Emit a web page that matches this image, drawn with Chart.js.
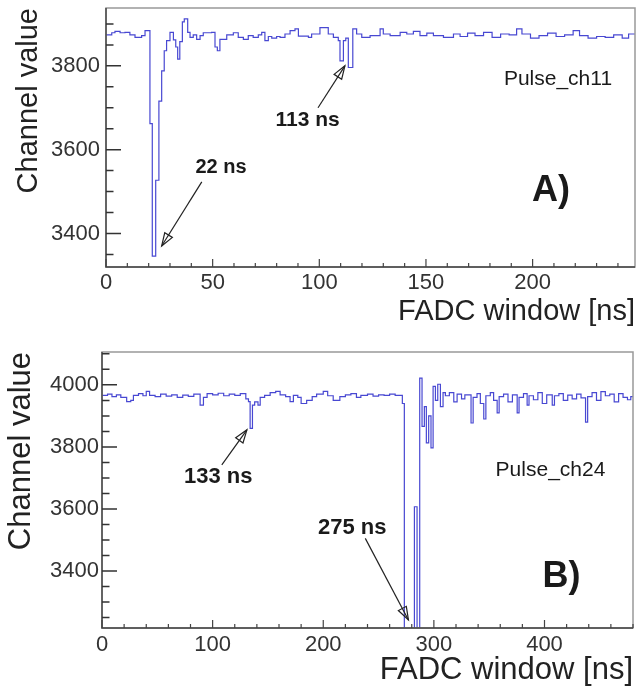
<!DOCTYPE html>
<html>
<head>
<meta charset="utf-8">
<script src="https://cdn.jsdelivr.net/npm/chart.js@4.4.1/dist/chart.umd.min.js"></script>
<style>
  html, body { margin: 0; padding: 0; background: #fff; }
  #wrap { position: relative; width: 637px; height: 687px; }
  canvas { position: absolute; left: 0; }
  #chartA { top: 0; }
  #chartB { top: 330px; }
</style>
</head>
<body>
<div id="wrap">
  <canvas id="chartA" width="637" height="330"></canvas>
  <canvas id="chartB" width="637" height="357"></canvas>
</div>
<script>
// Pulse_ch11 (panel A): bin start time [ns] and channel value
const timeA = [0, 2.7, 4.2, 6.6, 8.9, 11.2, 13.6, 16.7, 18.3, 20.6, 21.7, 23.3, 24.8, 26.1, 27.3,
  28.4, 30, 31.6, 32.7, 33.6, 34.6, 35.8, 36.7, 38.3, 39.4, 40.9, 42.5, 44.1, 45.6, 49.5, 51.1,
  52.2, 53.4, 56.6, 59.7, 62, 64.4, 66.7, 69, 71.4, 73, 74.5, 76.1, 77.7, 80, 81.6, 83.9, 86.3,
  88.6, 90.2, 94.9, 96.4, 100.3, 104.2, 106.6, 108.9, 109.7, 111.3, 112.4, 113.6, 115.7, 117.5,
  119.9, 123.8, 128.5, 130, 133.2, 137.9, 141, 144.1, 147.2, 150.4, 153.5, 158.2, 162.9, 166,
  169.5, 173, 177, 181, 185, 189, 192.5, 195, 199, 203, 207, 211, 215, 219, 222, 226, 230, 234,
  238, 242, 245, 248];
const chanA = [3874, 3879, 3882, 3879, 3880, 3874, 3868, 3872, 3884, 3662, 3346, 3527, 3716, 3788, 3836,
  3860, 3880, 3862, 3845, 3816, 3858, 3905, 3912, 3880, 3868, 3874, 3863, 3872, 3879, 3880, 3845,
  3836, 3863, 3874, 3879, 3868, 3863, 3872, 3868, 3874, 3880, 3860, 3870, 3866, 3870, 3868, 3876, 3884,
  3888, 3871, 3868, 3876, 3891, 3876, 3868, 3860, 3812, 3860, 3866, 3796, 3888, 3876,
  3868, 3872, 3888, 3876, 3872, 3880, 3876, 3882, 3872, 3878, 3872, 3868, 3876, 3870,
  3878, 3872, 3880, 3868, 3876, 3874, 3888, 3876, 3866, 3872, 3878, 3870, 3874, 3884, 3872, 3866, 3870, 3868,
  3874, 3866, 3876, 3876];

// Pulse_ch24 (panel B)
const timeB = [0, 5, 9, 13, 17, 22.3, 26, 28.4, 33, 37, 40, 43, 48, 53, 58, 63, 68, 73, 78, 83, 88.7,
  91.7, 95, 100, 105, 110, 115, 120, 125, 130, 132.4, 133.9, 136, 138, 141, 143, 147, 152, 157, 161,
  166, 170, 173, 177, 180, 185, 190, 194, 200, 204, 209, 215, 220, 225, 230, 234, 240, 245, 250, 255,
  260, 265, 271.5, 273.3, 282.4, 284.8, 287.2, 289.3, 291.4, 293.2, 295.3, 297.4, 299.3, 301.4,
  303.5, 305.9, 308.3, 310.4, 314, 318, 321, 325, 328, 333.6, 335.5, 339, 342, 345.1, 347, 351,
  354, 357.2, 359, 363, 367, 371, 375.3, 377, 381, 384.3, 386, 390, 394, 398, 402, 407, 409, 413,
  417, 421, 425, 429, 433, 437.1, 439, 443, 447, 451, 455, 459, 463, 467, 471, 475, 478, 480];
const chanB = [3966, 3970, 3962, 3968, 3960, 3946, 3950, 3966, 3972, 3965, 3979, 3966, 3962, 3970, 3964, 3968, 3960, 3967, 3963, 3970, 3935,
  3960, 3972, 3968, 3973, 3965, 3970, 3966, 3972, 3955, 3946, 3860, 3935, 3945, 3935, 3960, 3966, 3975, 3979, 3968,
  3962, 3946, 3966, 3960, 3940, 3950, 3962, 3970, 3979, 3965, 3950, 3962, 3968, 3972, 3960, 3966, 3970, 3964, 3968, 3966,
  3970, 3966, 3940, 3100, 3607, 3100, 4022, 3866, 3930, 3813, 3900, 3797, 3995, 3950,
  4002, 3930, 3975, 3965, 3975, 3945, 3970, 3955, 3968, 3877, 3960, 3972, 3940, 3890, 3965, 3975,
  3950, 3910, 3962, 3970, 3945, 3968, 3910, 3960, 3972, 3935, 3965, 3952, 3975, 3940, 3968, 3935, 3965, 3972,
  3950, 3967, 3955, 3970, 3958, 3880, 3962, 3975, 3950, 3978, 3965, 3970, 3945, 3972, 3960, 3952, 3962, 3962];

const xTicksA = [0, 50, 100, 150, 200];
const yTicksA = [3400, 3600, 3800];
const xTicksB = [0, 100, 200, 300, 400];
const yTicksB = [3400, 3600, 3800, 4000];

Chart.defaults.font.family = "'Liberation Sans', Arial, sans-serif";
Chart.defaults.color = '#222';

// tick mark list [value, length] between lo and hi
function marks(lo, hi, minor, major, longLen, shortLen) {
  const out = [];
  for (let v = Math.ceil(lo / minor) * minor; v <= hi; v += minor) {
    out.push([v, v % major === 0 ? longLen : shortLen]);
  }
  return out;
}

// ROOT style frame: box, inward ticks, arrows and text notes
function rootFrame(spec) {
  return {
    id: 'rootFrame',
    afterDraw(chart) {
      const { ctx, chartArea: a } = chart;
      const x = chart.scales.x, y = chart.scales.y;
      ctx.save();

      ctx.strokeStyle = '#999';
      ctx.lineWidth = 1.5;
      ctx.strokeRect(a.left, a.top, a.right - a.left, a.bottom - a.top);

      ctx.strokeStyle = '#444';
      ctx.lineWidth = 1.4;
      ctx.beginPath();
      ctx.moveTo(a.left, a.top);
      ctx.lineTo(a.left, a.bottom);
      ctx.lineTo(a.right, a.bottom);
      ctx.stroke();

      ctx.strokeStyle = '#333';
      ctx.lineWidth = 1.5;
      ctx.beginPath();
      for (let i = 0; i < spec.yMarks.length; i++) {
        const py = y.getPixelForValue(spec.yMarks[i][0]);
        ctx.moveTo(a.left, py);
        ctx.lineTo(a.left + spec.yMarks[i][1], py);
      }
      ctx.stroke();

      ctx.strokeStyle = '#444';
      ctx.lineWidth = 1.2;
      ctx.beginPath();
      spec.xMarks.forEach(m => {
        const px = x.getPixelForValue(m[0]);
        ctx.moveTo(px, a.bottom);
        ctx.lineTo(px, a.bottom - m[1]);
      });
      ctx.stroke();

      // arrows
      ctx.strokeStyle = '#222';
      ctx.lineWidth = 1.2;
      spec.arrows.forEach(ar => {
        const x0 = x.getPixelForValue(ar.from[0]), y0 = y.getPixelForValue(ar.from[1]);
        const x1 = x.getPixelForValue(ar.to[0]), y1 = y.getPixelForValue(ar.to[1]);
        const ang = Math.atan2(y1 - y0, x1 - x0);
        const c = Math.cos(ang), s = Math.sin(ang);
        ctx.beginPath();
        ctx.moveTo(x0, y0);
        ctx.lineTo(x1, y1);
        ctx.stroke();
        ctx.beginPath();
        ctx.moveTo(x1, y1);
        ctx.lineTo(x1 - 13 * c + 4.5 * s, y1 - 13 * s - 4.5 * c);
        ctx.lineTo(x1 - 13 * c - 4.5 * s, y1 - 13 * s + 4.5 * c);
        ctx.closePath();
        ctx.stroke();
      });

      // text notes
      ctx.fillStyle = '#1a1a1a';
      ctx.textAlign = 'center';
      ctx.textBaseline = 'middle';
      spec.notes.forEach(n => {
        ctx.font = (n.bold ? 'bold ' : '') + n.size + "px 'Liberation Sans', Arial, sans-serif";
        ctx.fillText(n.text, x.getPixelForValue(n.at[0]), y.getPixelForValue(n.at[1]));
      });
      ctx.restore();
    }
  };
}

function makePulse(id, times, values, xMax, yMin, yMax, xTicks, yTicks, look) {
  const spec = {
    yMarks: marks(yMin, yMax, 50, 200, 15, 7.5),
    xMarks: marks(0, xMax, look.xMinor, look.xMajor, 8, 4),
    arrows: look.arrows,
    notes: look.notes
  };
  new Chart(document.getElementById(id), {
    type: 'line',
    data: {
      datasets: [{
        data: times.map((t, i) => ({ x: t, y: values[i] })),
        stepped: 'before',
        borderColor: 'rgb(72, 72, 210)',
        borderWidth: 1.2,
        pointRadius: 0,
        fill: false
      }]
    },
    options: {
      responsive: false,
      animation: false,
      devicePixelRatio: 1,
      layout: { padding: { top: look.top, right: look.right, left: 0, bottom: 0 } },
      plugins: {
        legend: { display: false },
        tooltip: { enabled: false }
      },
      scales: {
        x: {
          type: 'linear',
          min: 0,
          max: xMax,
          afterBuildTicks: s => { s.ticks = xTicks.map(v => ({ value: v })); },
          afterFit: s => { s.height = look.xHeight; s.paddingLeft = 0; s.paddingRight = 0; },
          grid: { display: false, drawTicks: false },
          border: { display: false },
          ticks: { padding: look.xPad, color: '#333', font: { size: 22 }, maxRotation: 0, callback: v => String(v) },
          title: {
            display: true,
            text: 'FADC window [ns]',
            align: 'end',
            color: '#222',
            font: { size: look.titleSize, lineHeight: 1 },
            padding: { top: 0, bottom: look.xTitlePad }
          }
        },
        y: {
          type: 'linear',
          min: yMin,
          max: yMax,
          afterBuildTicks: s => { s.ticks = yTicks.map(v => ({ value: v })); },
          afterFit: s => { s.width = look.yWidth; s.paddingTop = 0; s.paddingBottom = 0; },
          grid: { display: false, drawTicks: false },
          border: { display: false },
          ticks: { padding: look.yPad, color: '#333', font: { size: 22 }, callback: v => String(v) },
          title: {
            display: true,
            text: 'Channel value',
            align: 'end',
            color: '#222',
            font: { size: look.titleSize, lineHeight: 1 },
            padding: { top: look.yTitlePad, bottom: 0 }
          }
        }
      }
    },
    plugins: [rootFrame(spec)]
  });
}

makePulse('chartA', timeA, chanA, 248, 3320, 3938, xTicksA, yTicksA, {
  top: 8, right: 2, xHeight: 63, yWidth: 106, xPad: 3, yPad: 6, titleSize: 29, xTitlePad: 4, yTitlePad: 14,
  xMinor: 10, xMajor: 50,
  arrows: [
    { from: [44.9, 3523], to: [26.1, 3370] },
    { from: [99.4, 3700], to: [112, 3800] }
  ],
  notes: [
    { text: '22 ns', at: [53.9, 3558], size: 20, bold: true },
    { text: '113 ns', at: [94.5, 3671], size: 21, bold: true },
    { text: 'Pulse_ch11', at: [211.9, 3768], size: 21, bold: false },
    { text: 'A)', at: [208.6, 3502], size: 36, bold: true }
  ]
});

makePulse('chartB', timeB, chanB, 480, 3216, 4106, xTicksB, yTicksB, {
  top: 22, right: 4, xHeight: 59, yWidth: 102, xPad: 4, yPad: 3, titleSize: 31, xTitlePad: 1, yTitlePad: 6,
  xMinor: 20, xMajor: 100,
  arrows: [
    { from: [108.3, 3742], to: [131, 3855] },
    { from: [238, 3505], to: [277, 3242] }
  ],
  notes: [
    { text: '133 ns', at: [105, 3703], size: 22, bold: true },
    { text: '275 ns', at: [226.2, 3539], size: 22, bold: true },
    { text: 'Pulse_ch24', at: [405.4, 3726], size: 21, bold: false },
    { text: 'B)', at: [415.4, 3381], size: 36, bold: true }
  ]
});
</script>
</body>
</html>
